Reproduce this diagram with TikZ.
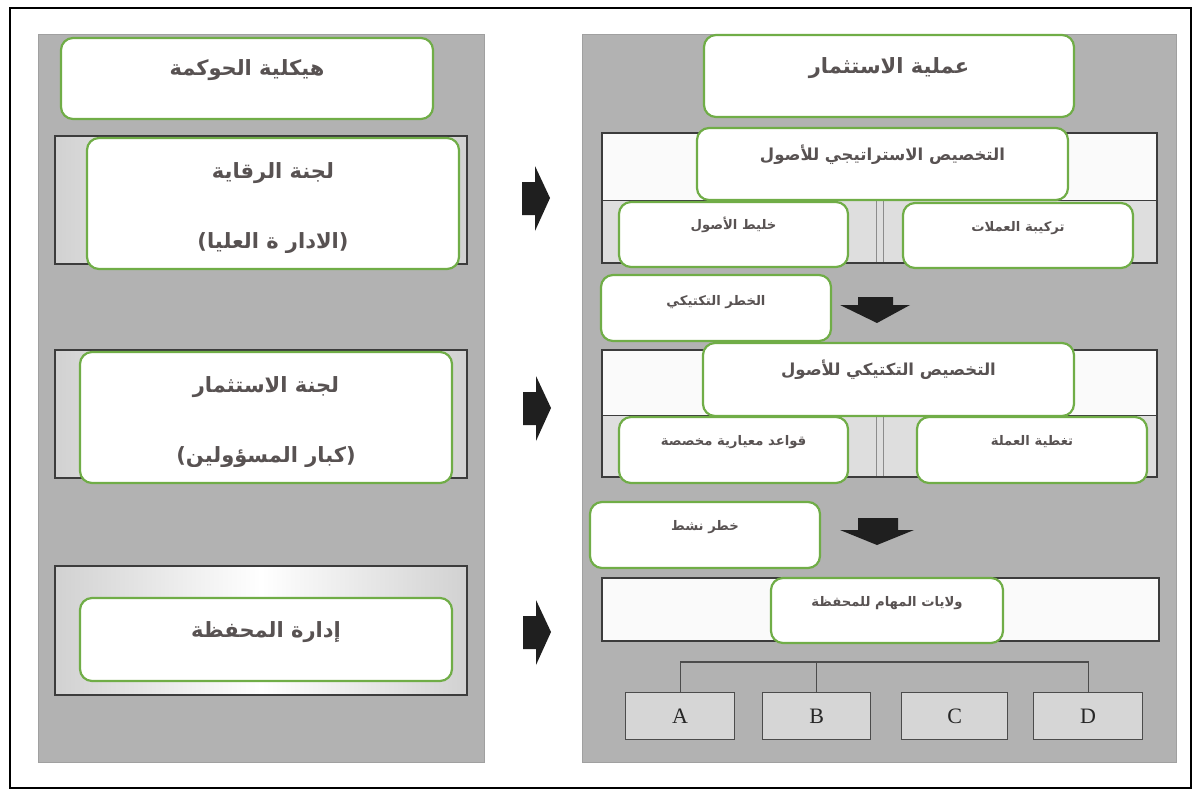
\documentclass[tikz,border=0pt]{standalone}
\usepackage{fontspec}
\setmainfont{Liberation Serif}
\newfontfamily\arabicfont[Script=Arabic]{DejaVu Sans}
\newfontfamily\parenfont{DejaVu Sans}
\TeXXeTstate=1
\newcommand\artxt[1]{\beginR #1\endR}
\newcommand\paren[1]{{\parenfont\bfseries(}\artxt{#1}{\parenfont\bfseries)}}

\definecolor{boxgreen}{RGB}{112,173,71}
\definecolor{txtgray}{RGB}{88,82,82}
\definecolor{panelgray}{RGB}{178,178,178}
\definecolor{paneledge}{RGB}{160,160,160}
\definecolor{bandedge}{RGB}{60,60,60}
\definecolor{cellgray}{RGB}{222,222,222}
\definecolor{letterbox}{RGB}{214,214,214}

\tikzset{
  frame/.style={draw=black, line width=1.8pt},
  panel/.style={fill=panelgray, draw=paneledge, line width=1pt},
  band/.style={draw=bandedge, line width=1.2pt, left color=black!18, right color=black!18, middle color=white},
  bandtop/.style={fill=black!2},
  bandcell/.style={fill=cellgray},
  divider/.style={draw=black!45, line width=1pt},
  gbox/.style={draw=boxgreen, line width=2.2pt, rounded corners=12pt, fill=white,
               anchor=north west, inner sep=0pt, outer sep=0pt},
  txtL/.style={text=txtgray, inner sep=0pt, font=\arabicfont\bfseries\fontsize{21}{24}\selectfont},
  txtM/.style={text=txtgray, inner sep=0pt, font=\arabicfont\bfseries\fontsize{16.5}{20}\selectfont},
  txtS/.style={text=txtgray, inner sep=0pt, font=\arabicfont\bfseries\fontsize{13.2}{16}\selectfont},
  arrowfill/.style={fill=black!88},
  lbox/.style={draw=black!70, line width=1.2pt, fill=letterbox, anchor=north west,
               inner sep=0pt, text=black!85, font=\fontsize{22}{24}\selectfont},
  tree/.style={draw=black!70, line width=1.2pt}
}

\begin{document}
\begin{tikzpicture}[x=1pt,y=-1pt]
% page and outer frame
\path[use as bounding box, fill=white] (0,0) rectangle (1195,792);
\draw[frame] (10,8) rectangle (1191,788);

% the two grey panels
\path[panel] (38,35) rectangle (484,762);
\path[panel] (582,35) rectangle (1176,762);

% ---------- left panel: governance bands ----------
\path[band] (55,136) rectangle (467,264);
\path[band] (55,350) rectangle (467,478);
\path[band] (55,566) rectangle (467,695);

% ---------- right panel: process bands ----------
% strategic allocation
\path[bandtop] (602,133) rectangle (1157,200);
\path[bandcell] (602,200) rectangle (1157,263);
\draw[divider] (876,200) -- (876,263) (883,200) -- (883,263);
\draw[draw=bandedge, line width=1.2pt] (602,133) rectangle (1157,263);
\draw[draw=bandedge, line width=1pt] (602,200) -- (1157,200);
% tactical allocation
\path[bandtop] (602,350) rectangle (1157,415);
\path[bandcell] (602,415) rectangle (1157,477);
\draw[divider] (876,415) -- (876,477) (883,415) -- (883,477);
\draw[draw=bandedge, line width=1.2pt] (602,350) rectangle (1157,477);
\draw[draw=bandedge, line width=1pt] (602,415) -- (1157,415);
% mandates
\path[bandtop] (602,578) rectangle (1159,641);
\draw[draw=bandedge, line width=1.2pt] (602,578) rectangle (1159,641);

% ---------- arrows ----------
\coordinate (ra1) at (535,198);
\coordinate (ra2) at (536,408);
\coordinate (ra3) at (536,632);
\foreach \c in {ra1,ra2,ra3}{
  \fill[arrowfill, shift={(\c)}] (-13,-16) -- (0,-16) -- (0,-32) -- (15,0) -- (0,33) -- (0,17) -- (-13,17) -- cycle;
}
\coordinate (da1) at (876,305);
\coordinate (da2) at (877,530);
\fill[arrowfill, shift={(da1)}] (-18,-8) -- (17,-8) -- (17,0) -- (34,0) -- (1,18) -- (-36,0) -- (-18,0) -- cycle;
\fill[arrowfill, shift={(da2)}] (-19,-12) -- (21,-12) -- (21,0) -- (37,0) -- (0,15) -- (-37,0) -- (-19,0) -- cycle;

% ---------- left panel boxes ----------
\node[gbox, minimum width=372pt, minimum height=81pt] (gov) at (61,38) {};
\node[txtL] (govT) at ([yshift=-32pt]gov.north) {\artxt{هيكلية الحوكمة}};

\node[gbox, minimum width=372pt, minimum height=131pt] (sup) at (87,138) {};
\node[txtL] (supT) at ([yshift=-35pt]sup.north) {\artxt{لجنة الرقاية}};
\begin{scope}
  \clip (90,220) rectangle (456,252);
  \node[txtL] (supS) at ([yshift=-105pt]sup.north) {\paren{الادار ة العليا}};
\end{scope}

\node[gbox, minimum width=372pt, minimum height=131pt] (inv) at (80,352) {};
\node[txtL] (invT) at ([yshift=-35pt]inv.north) {\artxt{لجنة الاستثمار}};
\begin{scope}
  \clip (83,434) rectangle (449,466);
  \node[txtL] (invS) at ([yshift=-105pt]inv.north) {\paren{كبار المسؤولين}};
\end{scope}

\node[gbox, minimum width=372pt, minimum height=83pt] (pm) at (80,598) {};
\node[txtL] (pmT) at ([yshift=-34pt]pm.north) {\artxt{إدارة المحفظة}};

% ---------- right panel boxes ----------
\node[gbox, minimum width=370pt, minimum height=82pt] (proc) at (704,35) {};
\node[txtL] (procT) at ([yshift=-33pt]proc.north) {\artxt{عملية الاستثمار}};

\node[gbox, minimum width=371pt, minimum height=72pt] (saa) at (697,128) {};
\node[txtM] (saaT) at ([yshift=-27pt]saa.north) {\artxt{التخصيص الاستراتيجي للأصول}};

\node[gbox, minimum width=229pt, minimum height=65pt] (mix) at (619,202) {};
\node[txtS] (mixT) at ([yshift=-23pt]mix.north) {\artxt{خليط الأصول}};

\node[gbox, minimum width=230pt, minimum height=65pt] (cur) at (903,203) {};
\node[txtS] (curT) at ([yshift=-25pt]cur.north) {\artxt{تركيبة العملات}};

\node[gbox, minimum width=230pt, minimum height=66pt] (tr) at (601,275) {};
\node[txtS] (trT) at ([yshift=-27pt]tr.north) {\artxt{الخطر التكتيكي}};

\node[gbox, minimum width=371pt, minimum height=73pt] (taa) at (703,343) {};
\node[txtM] (taaT) at ([yshift=-27pt]taa.north) {\artxt{التخصيص التكتيكي للأصول}};

\node[gbox, minimum width=229pt, minimum height=66pt] (bench) at (619,417) {};
\node[txtS] (benchT) at ([yshift=-25pt]bench.north) {\artxt{قواعد معيارية مخصصة}};

\node[gbox, minimum width=230pt, minimum height=66pt] (hedge) at (917,417) {};
\node[txtS] (hedgeT) at ([yshift=-25pt]hedge.north) {\artxt{تغطية العملة}};

\node[gbox, minimum width=230pt, minimum height=66pt] (act) at (590,502) {};
\node[txtS] (actT) at ([yshift=-25pt]act.north) {\artxt{خطر نشط}};

\node[gbox, minimum width=232pt, minimum height=65pt] (mand) at (771,578) {};
\node[txtS] (mandT) at ([yshift=-25pt]mand.north) {\artxt{ولايات المهام للمحفظة}};

% ---------- portfolio mandates A-D ----------
\node[lbox, minimum width=109pt, minimum height=47pt] (boxA) at (625,692) {A};
\node[lbox, minimum width=108pt, minimum height=47pt] (boxB) at (762,692) {B};
\node[lbox, minimum width=106pt, minimum height=47pt] (boxC) at (901,692) {C};
\node[lbox, minimum width=109pt, minimum height=47pt] (boxD) at (1033,692) {D};
\coordinate (bus) at (boxB.north |- 0,662);
\draw[tree] (boxA.north) |- (bus) -| (boxD.north);
\draw[tree] (boxB.north) -- (bus);
\end{tikzpicture}
\end{document}
